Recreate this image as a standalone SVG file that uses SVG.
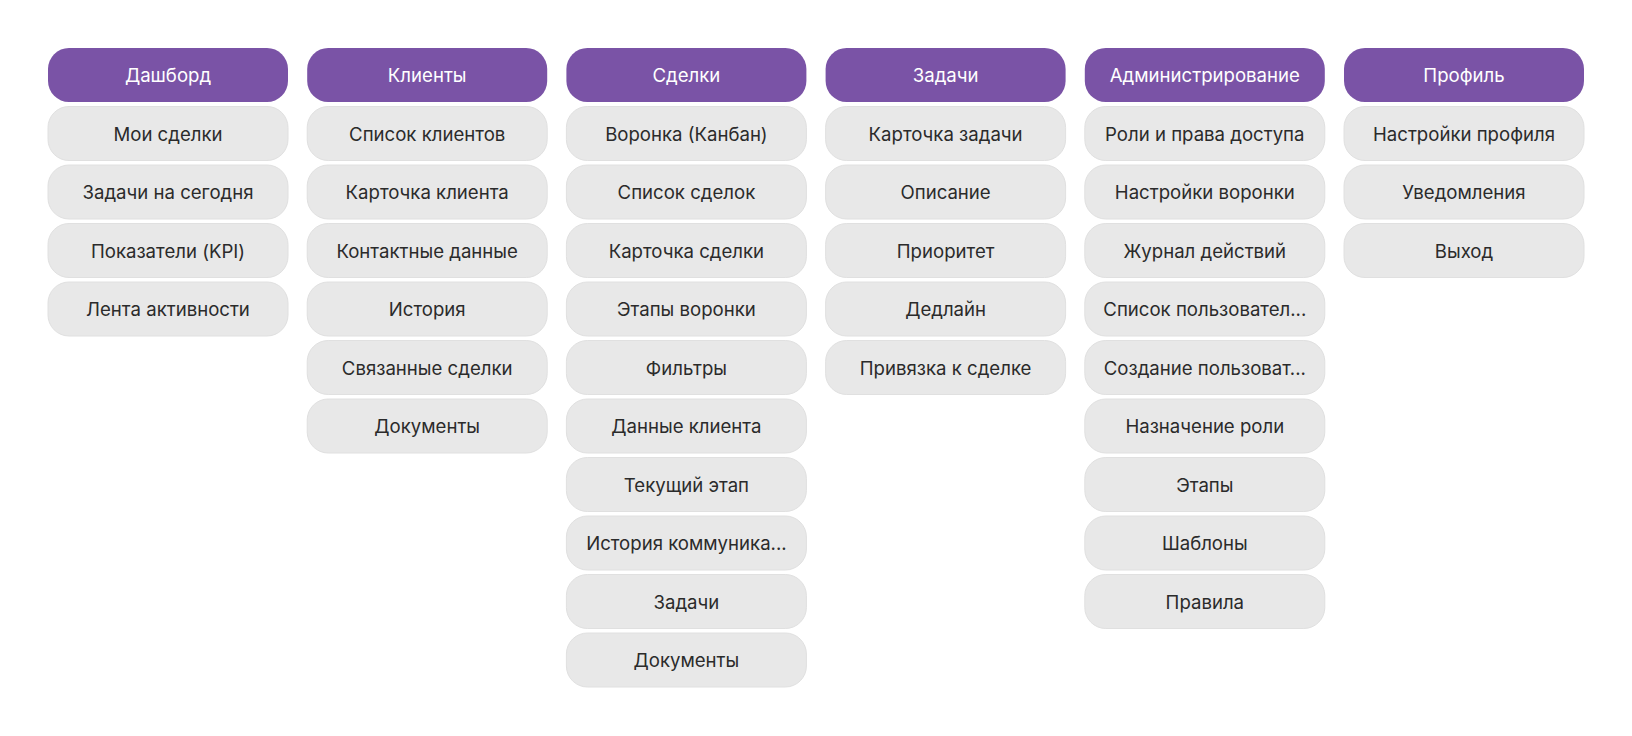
<svg xmlns="http://www.w3.org/2000/svg" width="1632" height="736" viewBox="0 0 1632 736">
<style>
.h rect{fill:#7A53A6;}
.h text{fill:#FFFFFF;}
.c rect{fill:#E8E8E8;stroke:#E0E0E0;stroke-width:1;}
.c text{fill:#2B2B2B;}
text{font-family:Inter,"Noto Sans","Liberation Sans",sans-serif;font-size:18.6px;text-anchor:middle;dominant-baseline:central;}
</style>
<rect width="1632" height="736" fill="#FFFFFF"/>
<g id="connectors"/>
<!-- Column 1 -->
<g id="n-dashbord" class="h"><rect x="48" y="48" width="240" height="54" rx="21"/><text x="168" y="75">Дашборд</text></g>
<g id="n-moi-sdelki" class="c"><rect x="48" y="106.5" width="240" height="54" rx="21"/><text x="168" y="133.5">Мои сделки</text></g>
<g id="n-zadachi-segodnya" class="c"><rect x="48" y="165" width="240" height="54" rx="21"/><text x="168" y="192">Задачи на сегодня</text></g>
<g id="n-kpi" class="c"><rect x="48" y="223.5" width="240" height="54" rx="21"/><text x="168" y="250.5">Показатели (KPI)</text></g>
<g id="n-lenta" class="c"><rect x="48" y="282" width="240" height="54" rx="21"/><text x="168" y="309">Лента активности</text></g>
<!-- Column 2 -->
<g id="n-klienty" class="h"><rect x="307.2" y="48" width="240" height="54" rx="21"/><text x="427.2" y="75">Клиенты</text></g>
<g id="n-spisok-klientov" class="c"><rect x="307.2" y="106.5" width="240" height="54" rx="21"/><text x="427.2" y="133.5">Список клиентов</text></g>
<g id="n-kartochka-klienta" class="c"><rect x="307.2" y="165" width="240" height="54" rx="21"/><text x="427.2" y="192">Карточка клиента</text></g>
<g id="n-kontakty" class="c"><rect x="307.2" y="223.5" width="240" height="54" rx="21"/><text x="427.2" y="250.5">Контактные данные</text></g>
<g id="n-istoriya" class="c"><rect x="307.2" y="282" width="240" height="54" rx="21"/><text x="427.2" y="309">История</text></g>
<g id="n-svyazannye" class="c"><rect x="307.2" y="340.5" width="240" height="54" rx="21"/><text x="427.2" y="367.5">Связанные сделки</text></g>
<g id="n-dokumenty-k" class="c"><rect x="307.2" y="399" width="240" height="54" rx="21"/><text x="427.2" y="426">Документы</text></g>
<!-- Column 3 -->
<g id="n-sdelki" class="h"><rect x="566.4" y="48" width="240" height="54" rx="21"/><text x="686.4" y="75">Сделки</text></g>
<g id="n-voronka" class="c"><rect x="566.4" y="106.5" width="240" height="54" rx="21"/><text x="686.4" y="133.5">Воронка (Канбан)</text></g>
<g id="n-spisok-sdelok" class="c"><rect x="566.4" y="165" width="240" height="54" rx="21"/><text x="686.4" y="192">Список сделок</text></g>
<g id="n-kartochka-sdelki" class="c"><rect x="566.4" y="223.5" width="240" height="54" rx="21"/><text x="686.4" y="250.5">Карточка сделки</text></g>
<g id="n-etapy-voronki" class="c"><rect x="566.4" y="282" width="240" height="54" rx="21"/><text x="686.4" y="309">Этапы воронки</text></g>
<g id="n-filtry" class="c"><rect x="566.4" y="340.5" width="240" height="54" rx="21"/><text x="686.4" y="367.5">Фильтры</text></g>
<g id="n-dannye-klienta" class="c"><rect x="566.4" y="399" width="240" height="54" rx="21"/><text x="686.4" y="426">Данные клиента</text></g>
<g id="n-tekushchiy-etap" class="c"><rect x="566.4" y="457.5" width="240" height="54" rx="21"/><text x="686.4" y="484.5">Текущий этап</text></g>
<g id="n-istoriya-komm" class="c"><rect x="566.4" y="516" width="240" height="54" rx="21"/><text x="686.4" y="543">История коммуника...</text></g>
<g id="n-zadachi-s" class="c"><rect x="566.4" y="574.5" width="240" height="54" rx="21"/><text x="686.4" y="601.5">Задачи</text></g>
<g id="n-dokumenty-s" class="c"><rect x="566.4" y="633" width="240" height="54" rx="21"/><text x="686.4" y="660">Документы</text></g>
<!-- Column 4 -->
<g id="n-zadachi" class="h"><rect x="825.6" y="48" width="240" height="54" rx="21"/><text x="945.6" y="75">Задачи</text></g>
<g id="n-kartochka-zadachi" class="c"><rect x="825.6" y="106.5" width="240" height="54" rx="21"/><text x="945.6" y="133.5">Карточка задачи</text></g>
<g id="n-opisanie" class="c"><rect x="825.6" y="165" width="240" height="54" rx="21"/><text x="945.6" y="192">Описание</text></g>
<g id="n-prioritet" class="c"><rect x="825.6" y="223.5" width="240" height="54" rx="21"/><text x="945.6" y="250.5">Приоритет</text></g>
<g id="n-dedlayn" class="c"><rect x="825.6" y="282" width="240" height="54" rx="21"/><text x="945.6" y="309">Дедлайн</text></g>
<g id="n-privyazka" class="c"><rect x="825.6" y="340.5" width="240" height="54" rx="21"/><text x="945.6" y="367.5">Привязка к сделке</text></g>
<!-- Column 5 -->
<g id="n-admin" class="h"><rect x="1084.8" y="48" width="240" height="54" rx="21"/><text x="1204.8" y="75">Администрирование</text></g>
<g id="n-roli" class="c"><rect x="1084.8" y="106.5" width="240" height="54" rx="21"/><text x="1204.8" y="133.5">Роли и права доступа</text></g>
<g id="n-nastroyki-voronki" class="c"><rect x="1084.8" y="165" width="240" height="54" rx="21"/><text x="1204.8" y="192">Настройки воронки</text></g>
<g id="n-zhurnal" class="c"><rect x="1084.8" y="223.5" width="240" height="54" rx="21"/><text x="1204.8" y="250.5">Журнал действий</text></g>
<g id="n-spisok-polz" class="c"><rect x="1084.8" y="282" width="240" height="54" rx="21"/><text x="1204.8" y="309">Список пользовател...</text></g>
<g id="n-sozdanie-polz" class="c"><rect x="1084.8" y="340.5" width="240" height="54" rx="21"/><text x="1204.8" y="367.5">Создание пользоват...</text></g>
<g id="n-naznachenie" class="c"><rect x="1084.8" y="399" width="240" height="54" rx="21"/><text x="1204.8" y="426">Назначение роли</text></g>
<g id="n-etapy" class="c"><rect x="1084.8" y="457.5" width="240" height="54" rx="21"/><text x="1204.8" y="484.5">Этапы</text></g>
<g id="n-shablony" class="c"><rect x="1084.8" y="516" width="240" height="54" rx="21"/><text x="1204.8" y="543">Шаблоны</text></g>
<g id="n-pravila" class="c"><rect x="1084.8" y="574.5" width="240" height="54" rx="21"/><text x="1204.8" y="601.5">Правила</text></g>
<!-- Column 6 -->
<g id="n-profil" class="h"><rect x="1344" y="48" width="240" height="54" rx="21"/><text x="1464" y="75">Профиль</text></g>
<g id="n-nastroyki-profilya" class="c"><rect x="1344" y="106.5" width="240" height="54" rx="21"/><text x="1464" y="133.5">Настройки профиля</text></g>
<g id="n-uvedomleniya" class="c"><rect x="1344" y="165" width="240" height="54" rx="21"/><text x="1464" y="192">Уведомления</text></g>
<g id="n-vykhod" class="c"><rect x="1344" y="223.5" width="240" height="54" rx="21"/><text x="1464" y="250.5">Выход</text></g>
</svg>
